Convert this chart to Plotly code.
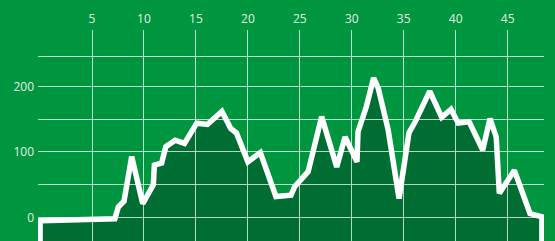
import plotly.graph_objects as go

# Profile data (distance, value)
dist = [0, 7.2, 7.53, 8.08, 8.82, 9.88, 10.9, 11.0, 11.7, 12.1, 13.0, 13.9, 15.08, 16.1,
        17.5, 18.35, 18.9, 20.0, 21.2, 22.7, 24.15, 24.5, 25.8, 27.1, 28.55, 29.35, 30.5,
        30.6, 31.4, 32.1, 32.55, 33.5, 34.55, 35.5, 36.1, 37.5, 38.65, 39.55, 40.25, 41.3,
        42.6, 43.3, 43.9, 44.2, 45.65, 47.15, 48.3]
value = [-5, -2, 16, 25, 93, 21, 50, 80, 83, 108, 118, 113, 144, 142,
         162, 136, 129, 85, 99, 32, 34, 47, 70, 154, 77, 123, 85,
         131, 169, 213, 197, 134, 29, 129, 146, 193, 153, 165, 144, 146,
         103, 151, 123, 37, 72, 6, 1]

x_ticks = [5, 10, 15, 20, 25, 30, 35, 40, 45]
y_ticks = [0, 50, 100, 150, 200]
y_labels = ["0", "", "100", "", "200"]
base = -80  # floor for closing the filled profile (below view)

x_range = [-0.2, 48.5]
y_range = [-35.9, 245]

bg = "#00953f"
fill = "#006e33"
grid = "rgba(255,255,255,0.72)"
label_col = "#e4f1e6"
font = dict(family="Open Sans, Noto Sans, sans-serif", size=12, color=label_col)

xs = [dist[0]] + dist + [dist[-1]]
ys = [base] + value + [base]

fig = go.Figure()
fig.add_trace(go.Scatter(
    x=xs, y=ys, mode="lines", fill="toself", fillcolor=fill,
    line=dict(color="white", width=5.5), hoverinfo="skip",
    xaxis="x", yaxis="y",
))
# empty trace on the overlay axes so they are drawn (grid above the profile)
fig.add_trace(go.Scatter(x=[None], y=[None], xaxis="x2", yaxis="y2",
                         showlegend=False, hoverinfo="skip"))

fig.update_layout(
    width=555, height=241,
    margin=dict(l=38, r=11, t=57, b=0, autoexpand=False),
    paper_bgcolor=bg, plot_bgcolor="rgba(0,0,0,0)",
    showlegend=False,
    xaxis=dict(range=x_range, showgrid=False, zeroline=False, showticklabels=False,
               domain=[0, 1], anchor="y", automargin=False),
    yaxis=dict(range=y_range, showgrid=False, zeroline=False, showticklabels=False,
               domain=[0, 1], anchor="x", automargin=False),
    xaxis2=dict(range=x_range, side="top", tickvals=x_ticks, showgrid=True,
                gridcolor=grid, gridwidth=1, zeroline=False,
                showline=True, linecolor=grid, linewidth=1,
                ticks="outside", ticklen=26, tickcolor=grid, tickwidth=1,
                tickfont=font, domain=[0, 1], anchor="y2", ticklabelstandoff=2,
                automargin=False),
    yaxis2=dict(range=y_range, tickvals=y_ticks, ticktext=y_labels, showgrid=True,
                gridcolor=grid, gridwidth=1, zeroline=False, showline=False,
                ticks="", tickfont=font, domain=[0, 1], anchor="x2",
                ticklabelstandoff=3, automargin=False),
)

fig.write_html("out.html", config={"displayModeBar": False, "staticPlot": True},
               post_script="document.body.style.margin='0';document.body.style.background='%s';" % bg)
